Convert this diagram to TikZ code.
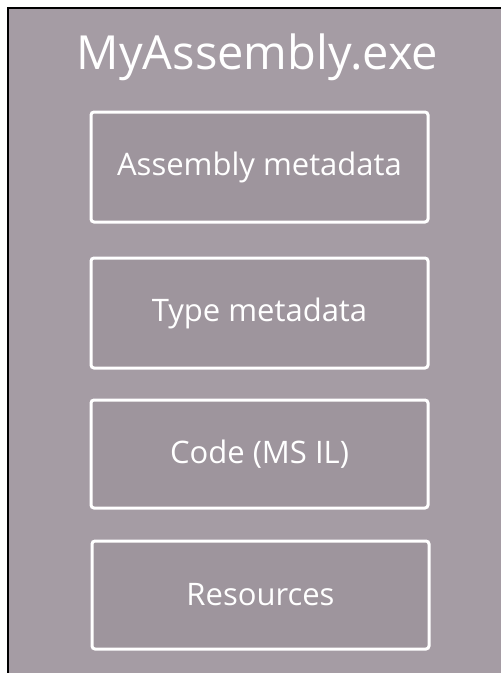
\documentclass[tikz,border=0pt]{standalone}
\usepackage{fontspec}
\setmainfont{Open Sans}
\definecolor{pagebg}{RGB}{165,156,164}
\definecolor{partbg}{RGB}{158,149,157}
\begin{document}
\begin{tikzpicture}[x=1pt, y=-1pt,
    part/.style={draw=white, line width=3pt, rounded corners=3pt, fill=partbg,
      minimum width=337pt, minimum height=110pt, inner sep=0pt,
      text=white, font=\fontsize{31}{36}\selectfont}]
  \useasboundingbox (0, 0) rectangle (501, 673);
  % assembly file
  \fill[pagebg] (8, 8) rectangle (501, 673);
  \draw[black, line width=1.2pt] (8, 673) -- (8, 8) -- (501, 8);
  \node[text=white, font=\fontsize{47}{55}\selectfont] (title) at (257.5, 57) {MyAssembly.exe};

  % parts
  \node[part] (asmmeta) at (259.5, 167) {Assembly metadata};
  \node[part] (typemeta) at (259.5, 313) {Type metadata};
  \node[part, minimum height=108pt] (code) at (259.5, 454) {Code (MS IL)};
  \node[part, minimum height=108pt] (res) at (260.5, 595) {Resources};
\end{tikzpicture}
\end{document}
